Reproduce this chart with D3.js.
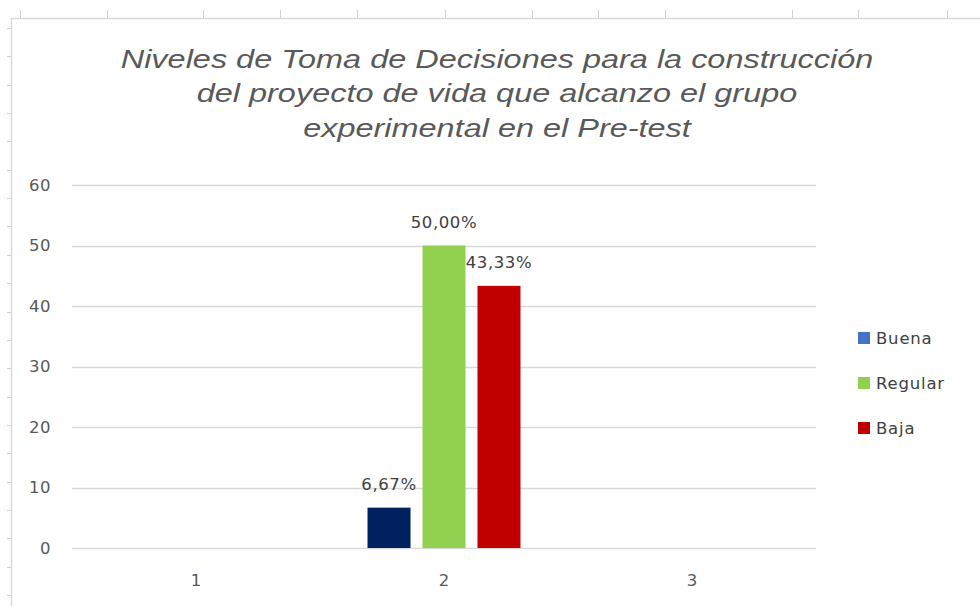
<!DOCTYPE html>
<html><head><meta charset="utf-8">
<script src="https://cdn.jsdelivr.net/npm/d3@7"></script>
<style>html,body{margin:0;padding:0;background:#fff;}svg{display:block;}</style>
</head><body>
<svg id="c" width="980" height="606"></svg>
<script>
const categories = ["1", "2", "3"];
const seriesNames = ["Buena", "Regular", "Baja"];
const buenaValues = [null, 6.67, null];
const regularValues = [null, 50.00, null];
const bajaValues = [null, 43.33, null];
const valueLabels = { Buena: ["", "6,67%", ""], Regular: ["", "50,00%", ""], Baja: ["", "43,33%", ""] };
const yTicks = [0, 10, 20, 30, 40, 50, 60];
const titleLines = ["Niveles de Toma de Decisiones para la construcción", "del proyecto de vida que alcanzo el grupo", "experimental en el Pre-test"];
const barColors = { Buena: "#002060", Regular: "#92D050", Baja: "#C00000" };
const legendColors = { Buena: "#4472C4", Regular: "#92D050", Baja: "#C00000" };
const seriesValues = { Buena: buenaValues, Regular: regularValues, Baja: bajaValues };

const svg = d3.select("#c");
const titleFont = "'Liberation Sans', Arial, sans-serif";
const font = "'DejaVu Sans', Verdana, sans-serif";
const smallSize = 16.5;

// spreadsheet frame
const sheet = svg.append("g");
sheet.append("line").attr("x1", 11).attr("x2", 980).attr("y1", 18.5).attr("y2", 18.5).attr("stroke", "#d9d9d9").attr("stroke-width", 1.5);
sheet.append("line").attr("x1", 11.5).attr("x2", 11.5).attr("y1", 18).attr("y2", 606).attr("stroke", "#d9d9d9").attr("stroke-width", 1.5);
const colMarks = [20, 107, 203, 280, 357, 445, 532, 598, 665, 792, 858, 947];
sheet.selectAll(".cm").data(colMarks).join("line").attr("x1", d => d + 0.5).attr("x2", d => d + 0.5).attr("y1", 10).attr("y2", 18).attr("stroke", "#d0d0d0");
const rowMarks = d3.range(28, 606, 28.35);
sheet.selectAll(".rm").data(rowMarks).join("line").attr("x1", 7).attr("x2", 11).attr("y1", d => Math.round(d) + 0.5).attr("y2", d => Math.round(d) + 0.5).attr("stroke", "#d0d0d0");

// title (horizontally stretched like the reference rendering)
const titleCx = 497;
const tg = svg.append("g");
const tt = tg.append("text").attr("x", 0).attr("y", 0).attr("text-anchor", "middle")
  .attr("font-family", titleFont).attr("font-style", "italic").attr("font-size", 26).attr("fill", "#595959");
tt.selectAll("tspan").data(titleLines).join("tspan").attr("x", 0).attr("dy", (d, i) => i === 0 ? 0 : 34.5).text(d => d);
const firstLen = tt.select("tspan").node().getComputedTextLength();
const sx = 753 / firstLen;
tg.attr("transform", `translate(${titleCx},68) scale(${sx},1)`);

// scales
const plot = { left: 72, right: 816, top: 185, bottom: 548 };
const y = d3.scaleLinear().domain([0, 60]).range([plot.bottom, plot.top]);
const x0 = d3.scaleBand().domain(categories).range([plot.left, plot.right]).padding(0);
const x1 = d3.scaleBand().domain(seriesNames).range([0, x0.bandwidth()]).paddingInner(0.218).paddingOuter(0.864);

// gridlines
svg.append("g").selectAll("line").data(yTicks).join("line")
  .attr("x1", plot.left).attr("x2", plot.right)
  .attr("y1", d => Math.round(y(d)) + 0.5).attr("y2", d => Math.round(y(d)) + 0.5)
  .attr("stroke", "#d9d9d9").attr("stroke-width", 1.3);

// y axis
const yAxis = svg.append("g").attr("transform", `translate(${plot.left},0)`)
  .call(d3.axisLeft(y).tickValues(yTicks).tickSize(0).tickPadding(21));
yAxis.select(".domain").remove();
yAxis.selectAll("text").attr("font-family", font).attr("font-size", smallSize).attr("letter-spacing", 0.5).attr("fill", "#595959");

// x axis
const xAxis = svg.append("g").attr("transform", `translate(0,${plot.bottom})`)
  .call(d3.axisBottom(x0).tickSize(0).tickPadding(26));
xAxis.select(".domain").remove();
xAxis.selectAll("text").attr("font-family", font).attr("font-size", smallSize).attr("fill", "#595959");

// bars
const flat = [];
seriesNames.forEach(s => categories.forEach((c, i) => {
  const v = seriesValues[s][i];
  if (v != null) flat.push({ s, c, v, label: valueLabels[s][i] });
}));
svg.append("g").selectAll("rect").data(flat).join("rect")
  .attr("x", d => x0(d.c) + x1(d.s)).attr("width", x1.bandwidth())
  .attr("y", d => y(d.v)).attr("height", d => y(0) - y(d.v))
  .attr("fill", d => barColors[d.s]);

svg.append("g").selectAll("text").data(flat).join("text")
  .attr("x", d => x0(d.c) + x1(d.s) + x1.bandwidth() / 2)
  .attr("y", d => y(d.v) - 18)
  .attr("text-anchor", "middle").attr("font-family", font).attr("font-size", smallSize).attr("letter-spacing", 0.6).attr("fill", "#404040")
  .text(d => d.label);

// legend
const lg = svg.append("g");
const legendY = d3.scalePoint().domain(seriesNames).range([338, 428]);
lg.selectAll("rect").data(seriesNames).join("rect")
  .attr("x", 858).attr("y", d => legendY(d) - 6).attr("width", 12).attr("height", 12).attr("fill", d => legendColors[d]);
lg.selectAll("text").data(seriesNames).join("text")
  .attr("x", 876).attr("y", d => legendY(d) + 6).attr("font-family", font).attr("font-size", smallSize).attr("letter-spacing", 0.8).attr("fill", "#404040")
  .text(d => d);
</script>
</body></html>
